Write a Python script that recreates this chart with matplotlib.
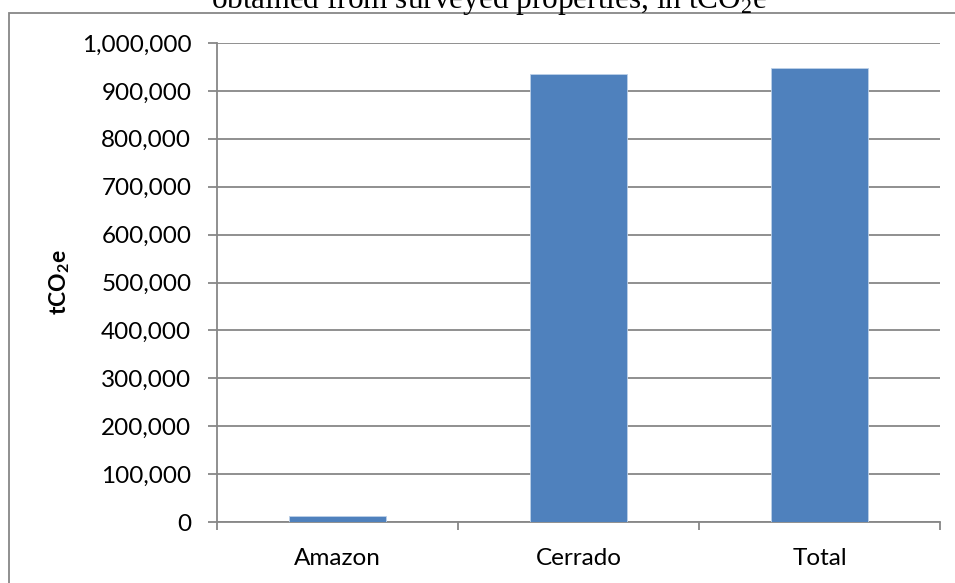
import numpy as np
import matplotlib
matplotlib.use("Agg")
import matplotlib.pyplot as plt
from matplotlib.patches import Rectangle
from matplotlib.ticker import FuncFormatter

# values (tCO2e)
categories = ["Amazon", "Cerrado", "Total"]
emissions = [12500, 935900, 948400]
y_ticks = np.arange(0, 1000001, 100000)

bar_color = "#4F81BD"
grid_color = "#878787"

plt.rcParams["mathtext.fontset"] = "custom"
plt.rcParams["mathtext.rm"] = "Liberation Serif"
plt.rcParams["mathtext.bf"] = "Lato:bold"

fig = plt.figure(figsize=(9.55, 5.83), dpi=100)
ax = fig.add_axes([0.2272, 0.1046, 0.9843 - 0.2272, 0.9262 - 0.1046])

x = np.arange(len(categories))
ax.bar(x, emissions, width=0.4, color=bar_color, edgecolor="#BCD0E8", linewidth=0.6, zorder=3)

ax.set_xlim(-0.5, len(categories) - 0.5)
ax.set_ylim(0, 1000000)
ax.set_yticks(y_ticks)
ax.yaxis.set_major_formatter(FuncFormatter(lambda v, p: f"{int(v):,}"))
ax.set_xticks(np.arange(-0.5, len(categories), 1.0))
ax.set_xticklabels([])
ax.set_xticks(x, minor=True)
ax.set_xticklabels(categories, minor=True)

ax.grid(axis="y", color=grid_color, linewidth=1.3, zorder=0)
for s in ["top", "right"]:
    ax.spines[s].set_visible(False)
for s in ["left", "bottom"]:
    ax.spines[s].set_color(grid_color)
    ax.spines[s].set_linewidth(1.3)

ax.tick_params(axis="y", length=6.5, width=1.3, color=grid_color, labelsize=17.5, pad=12)
ax.tick_params(axis="x", which="major", length=6, width=1.3, color=grid_color, direction="out")
ax.tick_params(axis="x", which="minor", length=0, labelsize=17.5, pad=19)
for lab in ax.get_yticklabels() + ax.get_xticklabels(minor=True):
    lab.set_fontfamily("Lato")

ax.set_ylabel("tCO$_\\mathbf{2}$e", fontsize=16.5, fontweight="bold", fontfamily="Lato", labelpad=7)

# outer chart frame
fig.patches.append(Rectangle((0.0094, -0.01), 1.0, 0.9777 + 0.01, transform=fig.transFigure,
                             fill=False, edgecolor=grid_color, linewidth=1.3))

fig.text(0.512, 0.987, "obtained from surveyed properties, in tCO$_2$e", ha="center", va="baseline",
         fontsize=22.5, fontfamily="Liberation Serif")

plt.savefig("out.png", dpi=100)
